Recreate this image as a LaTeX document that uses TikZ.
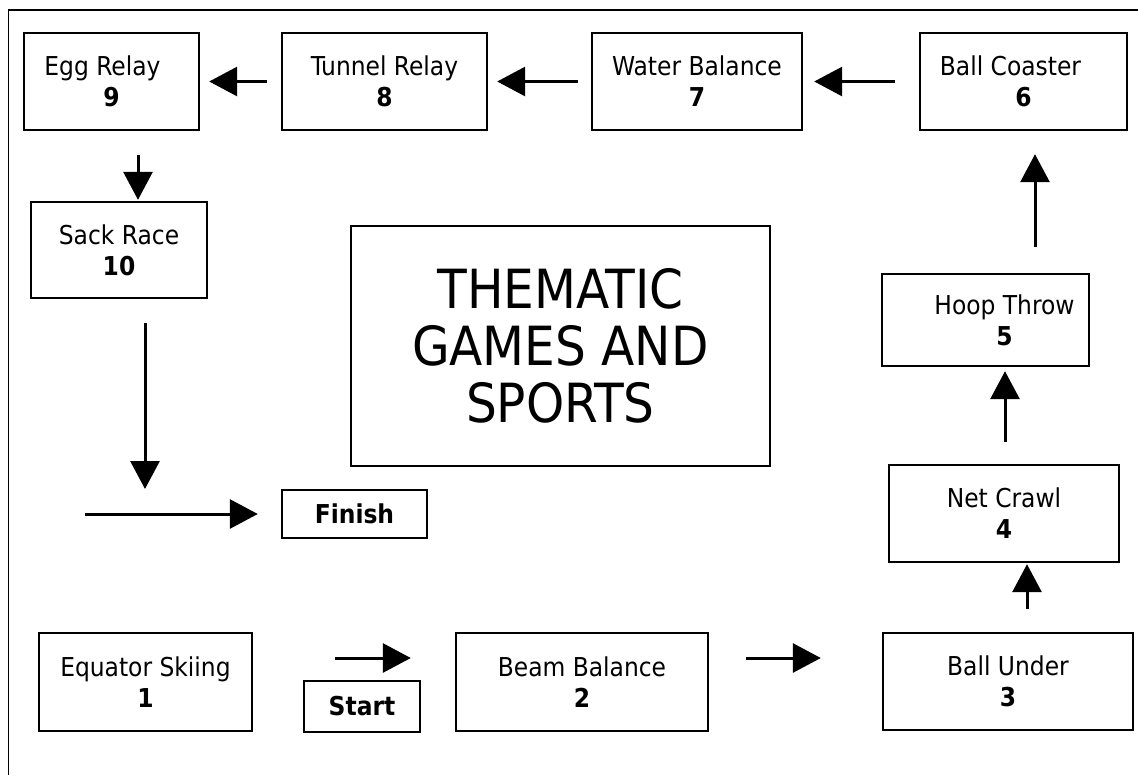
\documentclass[tikz,border=0pt]{standalone}
\usepackage{fontspec}
\setmainfont{DejaVu Sans Condensed}[BoldFont={DejaVu Sans Condensed Bold}]
\usetikzlibrary{arrows.meta}

\begin{document}
\begin{tikzpicture}[x=1pt, y=-1pt, >={Triangle[length=28pt, width=29pt]},
  station/.style={draw, line width=2.4pt, inner sep=0pt, align=center,
        font=\fontsize{26}{31}\selectfont},
  tag/.style={draw, line width=2.4pt, inner sep=0pt,
        font=\fontsize{26}{31}\selectfont\bfseries},
  flow/.style={->, line width=3pt}]
  \useasboundingbox (0,0) rectangle (1138,774);
  \draw[line width=1.8pt] (8.5,10) rectangle (1170,800);

  \node[station, minimum width=175pt, minimum height=97pt] (b9) at (111.5,81.5) {Egg Relay\hspace*{18pt}\\\textbf{9}};
  \node[station, minimum width=205pt, minimum height=97pt] (b8) at (384.5,81.5) {Tunnel Relay\\\textbf{8}};
  \node[station, minimum width=210pt, minimum height=97pt] (b7) at (697,81.5) {Water Balance\\\textbf{7}};
  \node[station, minimum width=207pt, minimum height=97pt] (b6) at (1023.5,81.5) {Ball Coaster\hspace*{26pt}\\\textbf{6}};
  \node[station, minimum width=176pt, minimum height=96pt] (b10) at (119,250) {Sack Race\\\textbf{10}};
  \node[station, minimum width=207pt, minimum height=92pt] (b5) at (985.5,320) {\hspace*{38pt}Hoop Throw\\\hspace*{38pt}\textbf{5}};
  \node[station, minimum width=230pt, minimum height=97pt] (b4) at (1004,513.5) {Net Crawl\\\textbf{4}};
  \node[station, minimum width=250pt, minimum height=97pt] (b3) at (1008,681.5) {Ball Under\\\textbf{3}};
  \node[station, minimum width=252pt, minimum height=98pt] (b2) at (582,682) {Beam Balance\\\textbf{2}};
  \node[station, minimum width=213pt, minimum height=98pt] (b1) at (145.5,682) {Equator Skiing\\\textbf{1}};

  \node[tag, minimum width=116pt, minimum height=51pt] (start) at (362,706.5) {Start};
  \node[tag, minimum width=145pt, minimum height=48pt] (finish) at (354.5,514) {Finish};

  \node[draw, line width=2.4pt, minimum width=419pt, minimum height=240pt, align=center,
        font=\fontsize{54}{57}\selectfont] (title) at (560.5,346) {THEMATIC\\GAMES AND\\SPORTS};

  \coordinate (sackend) at (145,489);
  \coordinate (finishtail) at (85,514);
  \coordinate (go) at (335,658);

  \draw[flow, shorten <=14pt, shorten >=9pt] (b8) -- (b9);
  \draw[flow, shorten <=13pt, shorten >=9pt] (b7) -- (b8);
  \draw[flow, shorten <=24pt, shorten >=11pt] (b6) -- (b7);
  \draw[flow, shorten <=24pt, shorten >=1pt] ([xshift=26.5pt]b9.south) -- ([xshift=19pt]b10.north);
  \draw[flow, shorten <=24pt] (b10.south -| sackend) -- (sackend);
  \draw[flow, shorten >=23pt] (finishtail) -- (finish.west);
  \draw[flow, shorten >=44pt] (go) -- (go -| b2.west);
  \draw[flow, shorten <=37pt, shorten >=61pt] (b2.east |- go) -- (b3.west |- go);
  \draw[flow, shorten <=23pt, shorten >=1pt] ([xshift=19pt]b3.north) -- ([xshift=23pt]b4.south);
  \draw[flow, shorten <=22pt, shorten >=4pt] ([xshift=1pt]b4.north) -- ([xshift=19.5pt]b5.south);
  \draw[flow, shorten <=26pt, shorten >=23pt] ([xshift=49.5pt]b5.north) -- ([xshift=11.5pt]b6.south);
\end{tikzpicture}
\end{document}
